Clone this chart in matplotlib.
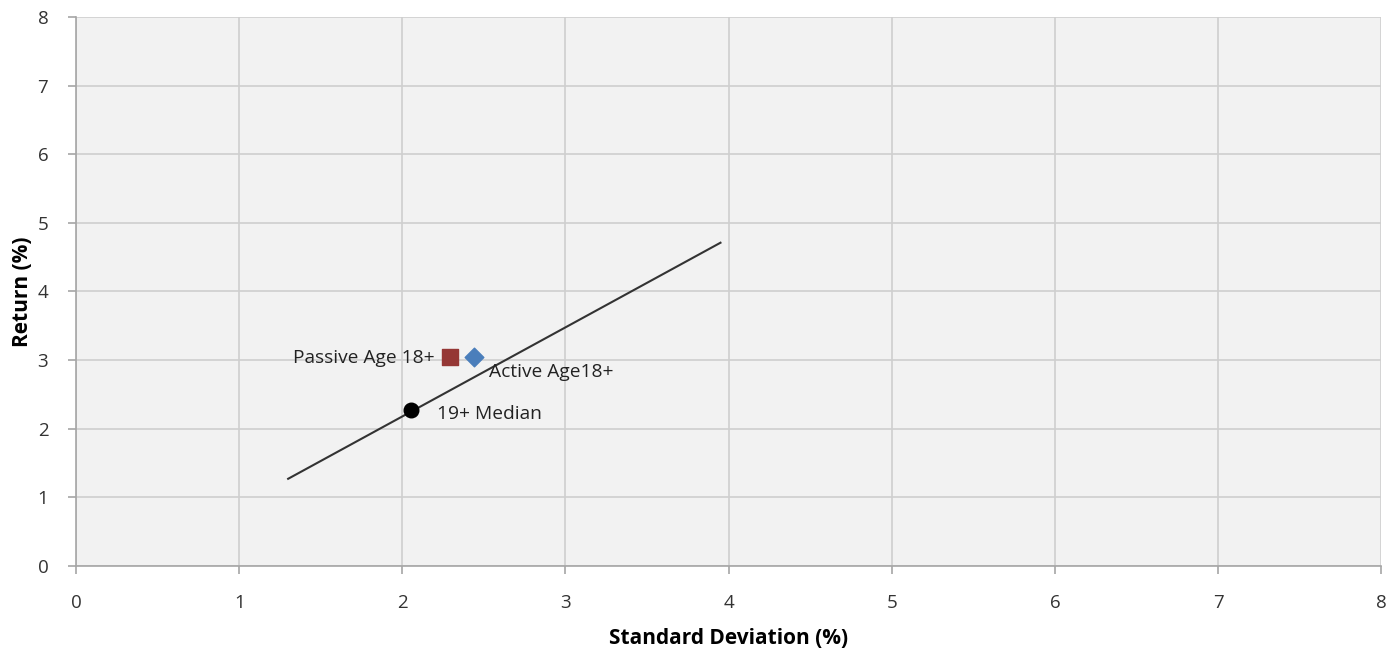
import matplotlib
matplotlib.use("Agg")
import matplotlib.pyplot as plt

# Data
line_x = [1.30, 3.95]
line_y = [1.27, 4.71]
median_x, median_y = [2.05], [2.27]
passive_x, passive_y = [2.29], [3.05]
active_x, active_y = [2.44], [3.05]
ticks = list(range(0, 9))

plt.rcParams['font.family'] = ['Open Sans', 'DejaVu Sans']

fig = plt.figure(figsize=(13.98, 6.52), dpi=100)
ax = fig.add_axes([0.0544, 0.132, 0.9336, 0.842])
ax.set_facecolor('#f2f2f2')

ax.plot(line_x, line_y, color='#333333', lw=1.5, zorder=3)
ax.scatter(median_x, median_y, s=110, color='black', marker='o', zorder=4)
ax.scatter(passive_x, passive_y, s=120, color='#953735', marker='s', zorder=4)
ax.scatter(active_x, active_y, s=90, color='#4a7ebb', marker='D', zorder=4)

fs = 13.8
ax.text(median_x[0] + 0.16, median_y[0] - 0.05, '19+ Median', fontsize=fs, va='center', ha='left', color='#222222')
ax.text(passive_x[0] - 0.09, passive_y[0] - 0.02, 'Passive Age 18+', fontsize=fs, va='center', ha='right', color='#222222')
ax.text(active_x[0] + 0.09, active_y[0] - 0.23, 'Active Age18+', fontsize=fs, va='center', ha='left', color='#222222')

ax.set_xlim(0, 8)
ax.set_ylim(0, 8)
ax.set_xticks(ticks)
ax.set_yticks(ticks)
ax.grid(True, color='#cfcfcf', lw=1.2)
ax.set_axisbelow(True)
for s in ['top', 'right']:
    ax.spines[s].set_visible(False)
for s in ['left', 'bottom']:
    ax.spines[s].set_color('#a6a6a6')
    ax.spines[s].set_linewidth(1.2)
ax.tick_params(axis='both', direction='out', length=6, color='#a6a6a6', labelsize=13.5, labelcolor='#333333', width=1.2)
ax.tick_params(axis='x', pad=14)
ax.tick_params(axis='y', pad=14)

ax.set_xlabel('Standard Deviation (%)', fontsize=15, fontweight='bold', labelpad=12)
ax.set_ylabel('Return (%)', fontsize=15, fontweight='bold', labelpad=3)

fig.savefig('out.png', dpi=100)
